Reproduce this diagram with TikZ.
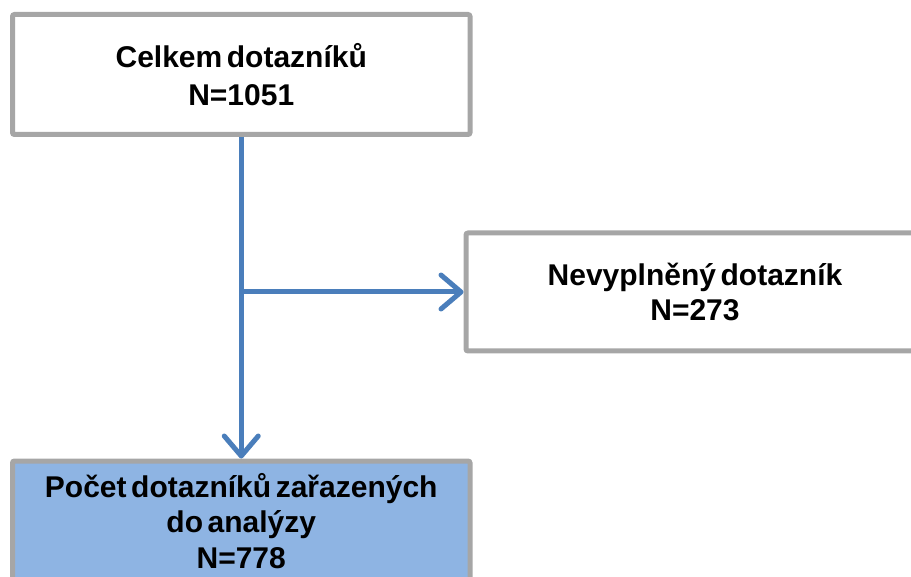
\documentclass[tikz,border=0pt]{standalone}
\usepackage{fontspec}
\setmainfont{Liberation Sans}[WordSpace=0.55]
\usetikzlibrary{arrows.meta}
\definecolor{boxgray}{HTML}{A6A6A6}
\definecolor{lineblue}{HTML}{4A7EBB}
\definecolor{fillblue}{HTML}{8EB4E3}
\tikzset{
  box/.style={draw=boxgray, line width=5pt, rounded corners=2pt, fill=white,
    align=center, font=\fontsize{30}{35.5}\selectfont\bfseries, inner sep=0pt},
  conn/.style={draw=lineblue, line width=5pt,
    -{Straight Barb[length=20pt,width=34pt,line cap=round,line join=round]}}
}
\begin{document}
\begin{tikzpicture}[x=1pt,y=-1pt]
\useasboundingbox (0,0) rectangle (911,577);
\node[box, minimum width=457.5pt, minimum height=120pt,
  font=\fontsize{30}{38}\selectfont\bfseries] (top) at (241.25,74.5)
  {Celkem dotazníků\\N=1051};
\node[box, minimum width=458pt, minimum height=118pt] (right) at (695,292)
  {Nevyplněný dotazník\\N=273};
\node[box, fill=fillblue, minimum width=457.5pt, minimum height=120pt] (bottom) at (241.25,521)
  {Počet dotazníků zařazených\\do analýzy\\N=778};
\coordinate (j) at (top.south |- right.west);
\draw[conn] (top.south) -- (bottom.north);
\draw[conn] (j) -- (right.west);
\end{tikzpicture}
\end{document}
